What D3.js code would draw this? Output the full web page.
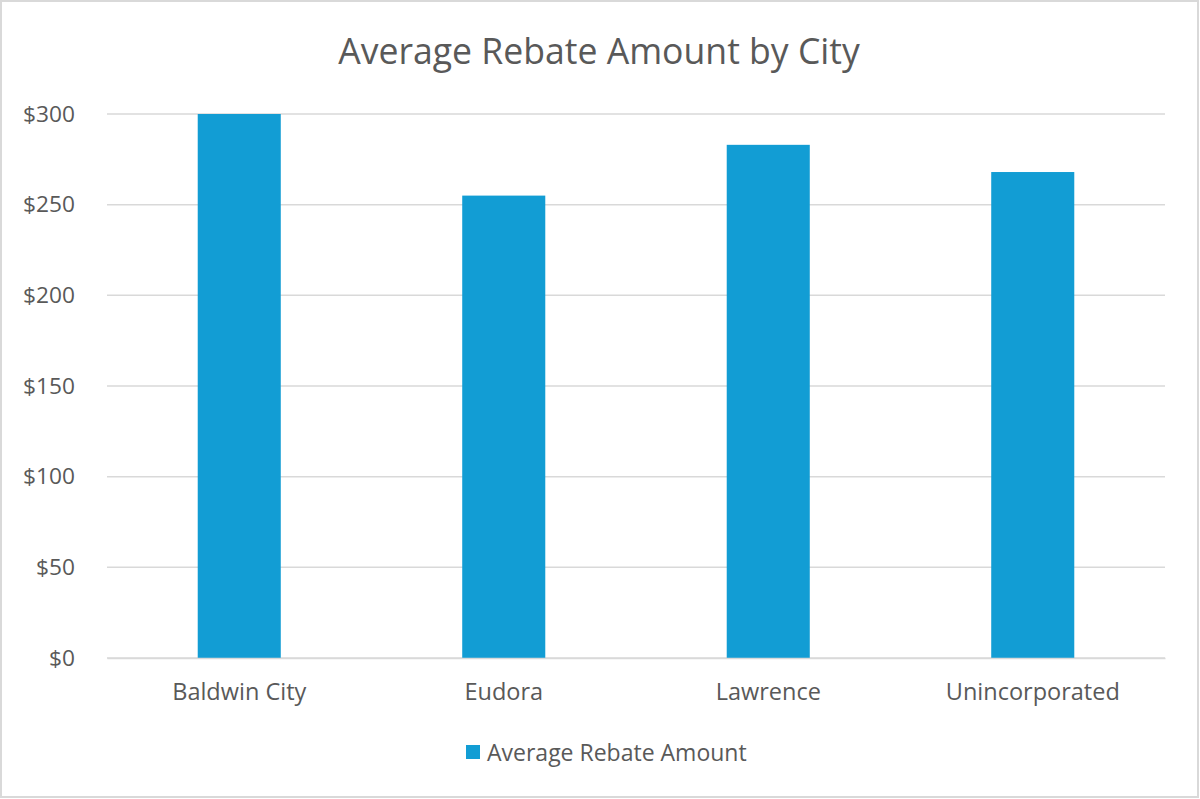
<!DOCTYPE html>
<html><head><meta charset="utf-8">
<script src="https://cdn.jsdelivr.net/npm/d3@7"></script>
<style>html,body{margin:0;padding:0;background:#fff;}</style>
</head><body>
<svg id="chart" width="1200" height="799"></svg>
<script>
const title = "Average Rebate Amount by City";
const seriesName = "Average Rebate Amount";
const categories = ["Baldwin City", "Eudora", "Lawrence", "Unincorporated"];
const values = [300, 255, 283, 268];
const yTicks = [0, 50, 100, 150, 200, 250, 300];

const W = 1200, H = 799;
const margin = {left: 107, right: 35, top: 114, bottom: 141};
const svg = d3.select("#chart");
const font = "'Open Sans', 'Noto Sans', sans-serif";
const textColor = "#595959";
const barColor = "#129dd4";

svg.append("rect").attr("x", 1).attr("y", 1).attr("width", W - 3).attr("height", H - 3)
  .attr("fill", "#fff").attr("stroke", "#d9d9d9").attr("stroke-width", 2);

const x = d3.scaleBand().domain(categories).range([margin.left, W - margin.right]).paddingInner(0.686).paddingOuter(0.343);
const y = d3.scaleLinear().domain([0, 300]).range([H - margin.bottom, margin.top]);

// gridlines
svg.append("g").selectAll("line").data(yTicks).join("line")
  .attr("x1", margin.left).attr("x2", W - margin.right)
  .attr("y1", d => y(d)).attr("y2", d => y(d))
  .attr("stroke", "#d9d9d9").attr("stroke-width", 1.5);

// y axis labels
const yAxis = d3.axisLeft(y).tickValues(yTicks).tickFormat(d => "$" + d).tickSize(0).tickPadding(0);
const gy = svg.append("g").attr("transform", `translate(${margin.left - 32},0)`).call(yAxis);
gy.select(".domain").remove();
gy.selectAll("text").attr("font-family", font).attr("font-size", 22.7).attr("fill", textColor);

// bars
svg.append("g").selectAll("rect").data(categories).join("rect")
  .attr("x", d => x(d)).attr("width", x.bandwidth())
  .attr("y", (d, i) => y(values[i])).attr("height", (d, i) => y(0) - y(values[i]))
  .attr("fill", barColor);

// x axis
const xAxis = d3.axisBottom(x).tickSize(0).tickPadding(25);
const gx = svg.append("g").attr("transform", `translate(0,${y(0)})`).call(xAxis);
gx.select(".domain").attr("stroke", "#d9d9d9").attr("stroke-width", 1.5);
gx.selectAll("text").attr("font-family", font).attr("font-size", 23.5).attr("fill", textColor);

// title
svg.append("text").attr("x", 599).attr("y", 64).attr("text-anchor", "middle")
  .attr("font-family", font).attr("font-size", 35.6).attr("fill", textColor).text(title);

// legend
const lg = svg.append("g");
lg.append("rect").attr("x", 466).attr("y", 745).attr("width", 14).attr("height", 14).attr("fill", barColor);
lg.append("text").attr("x", 487).attr("y", 761).attr("font-family", font).attr("font-size", 23)
  .attr("fill", textColor).text(seriesName);
</script>
</body></html>
